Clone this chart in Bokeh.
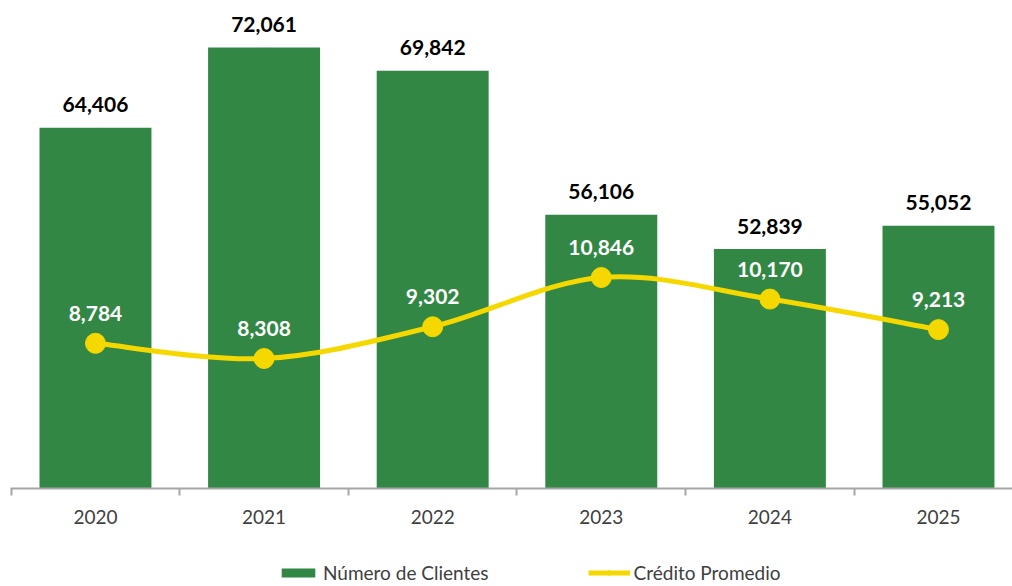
from bokeh.plotting import figure
from bokeh.layouts import column
from bokeh.models import (ColumnDataSource, Range1d, FixedTicker, Legend, LegendItem)
from bokeh.core.properties import value
from bokeh.embed import file_html
from bokeh.resources import INLINE

years = ["2020", "2021", "2022", "2023", "2024", "2025"]
clientes = [64406, 72061, 69842, 56106, 52839, 55052]
credito = [8784, 8308, 9302, 10846, 10170, 9213]
series_names = ["Número de Clientes", "Crédito Promedio"]

GREEN = "#328744"
YELLOW = "#F5D800"
FONT = "Lato"

xs = list(range(len(years)))

p = figure(frame_width=1002, frame_height=480, output_backend="svg", toolbar_location=None,
           x_range=Range1d(-0.504, 5.439), y_range=Range1d(30000, 75780),
           min_border_left=10, min_border_right=0, min_border_top=8, min_border_bottom=50,
           y_axis_location=None)
p.extra_y_ranges = {"credit": Range1d(4234, 19276)}
p.outline_line_color = None
p.grid.visible = False
p.background_fill_color = "white"
p.border_fill_color = "white"

src = ColumnDataSource(dict(x=xs, clientes=clientes, credito=credito,
                            clab=[f"{v:,}" for v in clientes],
                            klab=[f"{v:,}" for v in credito]))

p.vbar(x="x", top="clientes", bottom=30000, width=0.664, source=src,
       fill_color=GREEN, line_color=None)
p.text(x="x", y="clientes", text="clab", source=src, text_align="center",
       text_baseline="middle", y_offset=-23, text_font=value(FONT),
       text_font_style="bold", text_font_size="21px", text_color="black")

# smoothed line (Catmull-Rom style Bezier through the data points)
n = len(xs)
x0, y0, x1, y1, cx0, cy0, cx1, cy1 = [], [], [], [], [], [], [], []
for i in range(n - 1):
    pm = (xs[max(i - 1, 0)], credito[max(i - 1, 0)])
    p0 = (xs[i], credito[i])
    p1 = (xs[i + 1], credito[i + 1])
    p2 = (xs[min(i + 2, n - 1)], credito[min(i + 2, n - 1)])
    x0.append(p0[0]); y0.append(p0[1]); x1.append(p1[0]); y1.append(p1[1])
    cx0.append(p0[0] + (p1[0] - pm[0]) / 6); cy0.append(p0[1] + (p1[1] - pm[1]) / 6)
    cx1.append(p1[0] - (p2[0] - p0[0]) / 6); cy1.append(p1[1] - (p2[1] - p0[1]) / 6)
p.bezier(x0=x0, y0=y0, x1=x1, y1=y1, cx0=cx0, cy0=cy0, cx1=cx1, cy1=cy1,
         line_color=YELLOW, line_width=5, y_range_name="credit")
p.scatter(x="x", y="credito", source=src, size=20, fill_color=YELLOW,
          line_color=YELLOW, y_range_name="credit")
p.text(x="x", y="credito", text="klab", source=src, text_align="center",
       text_baseline="middle", y_offset=-30, text_font=value(FONT),
       text_font_style="bold", text_font_size="21px", text_color="white",
       y_range_name="credit")

ax = p.xaxis[0]
ax.ticker = FixedTicker(ticks=xs, minor_ticks=[i - 0.5 for i in range(n + 1)])
ax.major_label_overrides = {i: y for i, y in enumerate(years)}
ax.major_tick_out = 0
ax.major_tick_in = 0
ax.minor_tick_out = 7
ax.minor_tick_in = 0
ax.minor_tick_line_color = "#A6A6A6"
ax.minor_tick_line_width = 2
ax.axis_line_color = "#A6A6A6"
ax.axis_line_width = 2
ax.major_label_text_font = FONT
ax.major_label_text_font_size = "19px"
ax.major_label_text_color = "#404040"
ax.major_label_standoff = 14

# legend strip below the chart (proxy renderers sit outside the strip's visible range)
lg = figure(frame_width=1012, frame_height=48, output_backend="svg", toolbar_location=None,
            x_range=Range1d(0, 1), y_range=Range1d(0, 1), min_border=0,
            x_axis_location=None, y_axis_location=None)
lg.outline_line_color = None
lg.grid.visible = False
lg.border_fill_color = "white"
proxy = ColumnDataSource(dict(x=[5, 6], y=[5, 6]))
leg_bar = lg.vbar(x="x", top="y", bottom=4, width=0.5, source=proxy,
                  fill_color=GREEN, line_color=None)
leg_line = lg.line(x="x", y="y", source=proxy, line_color=YELLOW, line_width=5)
leg_dot = lg.scatter(x="x", y="y", source=proxy, size=20, fill_color=YELLOW,
                     line_color=YELLOW)

legend = Legend(items=[LegendItem(label=series_names[0], renderers=[leg_bar]),
                       LegendItem(label=series_names[1], renderers=[leg_line, leg_dot])],
                orientation="horizontal", location=(277, 2),
                label_text_font=FONT, label_text_font_size="19px",
                label_text_color="#404040", glyph_width=42, glyph_height=11,
                label_standoff=4, spacing=99, padding=0, margin=0,
                border_line_color=None, background_fill_alpha=0)
lg.add_layout(legend, "center")

layout = column(p, lg, spacing=0)
open("out.html", "w").write(file_html(layout, INLINE))
